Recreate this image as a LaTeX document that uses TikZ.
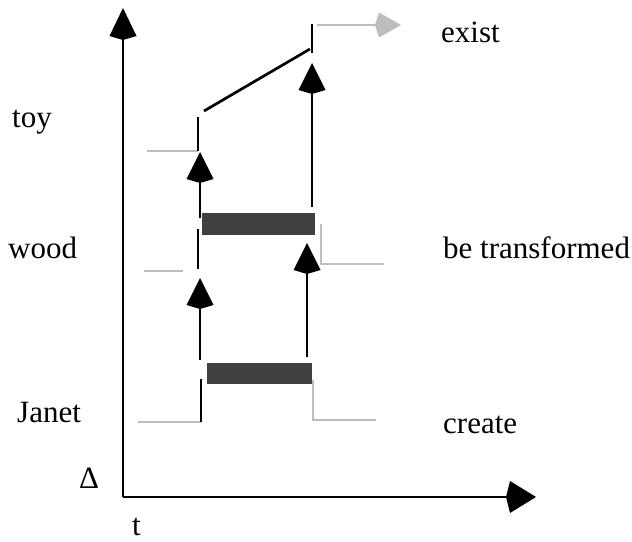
\documentclass[tikz,border=0pt]{standalone}
\usepackage{fontspec}
\setmainfont{Liberation Serif}
\usetikzlibrary{arrows.meta}
\definecolor{ruleGray}{HTML}{BDBDBD}
\definecolor{barGray}{HTML}{404040}
\begin{document}
\begin{tikzpicture}[x=1pt,y=-1pt,
  lbl/.style={anchor=base west,inner sep=0pt,font=\fontsize{31}{36}\selectfont},
  axisline/.style={line width=2.7pt},
  blk/.style={line width=2.7pt},
  gry/.style={line width=2.5pt,ruleGray},
  up/.style={line width=2.7pt,-{Kite[length=31pt,width=27pt,inset=4pt]}},
  bar/.style={fill=barGray,draw=none}]
\useasboundingbox (0,0) rectangle (632,541);

% axes
\coordinate (O) at (123,497);
\coordinate (ytop) at (123,8);
\coordinate (xend) at (536,497);
\draw[axisline,-{Kite[length=32pt,width=27pt,inset=4pt]}] (O) -- (ytop);
\draw[axisline,-{Kite[length=30pt,width=32pt,inset=4pt]}] (O) -- (xend);

% left boundary of the event
\coordinate (jL0) at (138,422);  \coordinate (jL1) at (201,422);
\coordinate (jL2) at (201,379);
\draw[gry] (jL0) -- (jL1);
\draw[blk] (jL1) -- (jL2);

\coordinate (a1s) at (200,360); \coordinate (a1t) at (200,278);
\draw[up] (a1s) -- (a1t);

\coordinate (wL0) at (144,271); \coordinate (wL1) at (183,271);
\draw[gry] (wL0) -- (wL1);
\coordinate (wB0) at (198,269); \coordinate (wB1) at (198,229);
\draw[blk] (wB0) -- (wB1);

\coordinate (a2s) at (200,218); \coordinate (a2t) at (200,152);
\draw[up] (a2s) -- (a2t);

\coordinate (tL0) at (147,151); \coordinate (tL1) at (198,151);
\coordinate (tL2) at (198,117);
\draw[gry] (tL0) -- (tL1);
\draw[blk] (tL1) -- (tL2);

\coordinate (s0) at (204,111); \coordinate (s1) at (310,49);
\draw[blk] (s0) -- (s1);
\coordinate (eB0) at (312,53); \coordinate (eB1) at (312,24);
\draw[blk] (eB0) -- (eB1);
\coordinate (g0) at (317,25); \coordinate (g1) at (401,25);
\draw[gry,-{Kite[length=26pt,width=25pt,inset=4pt]}] (g0) -- (g1);

% right boundary of the event
\coordinate (cR0) at (376,420); \coordinate (cR1) at (313,420);
\coordinate (cR2) at (313,380);
\draw[gry] (cR0) -- (cR1) -- (cR2);
\coordinate (bR0) at (384,264); \coordinate (bR1) at (321,264);
\coordinate (bR2) at (321,224);
\draw[gry] (bR0) -- (bR1) -- (bR2);

% durations
\fill[bar] (207,363) rectangle (312,384);
\fill[bar] (202,213) rectangle (315,235);

\coordinate (a3s) at (307,357); \coordinate (a3t) at (307,243);
\draw[up] (a3s) -- (a3t);
\coordinate (a4s) at (312,207); \coordinate (a4t) at (312,63);
\draw[up] (a4s) -- (a4t);

% labels
\node[lbl] (toy) at (12,127) {toy};
\node[lbl] (wood) at (8,258) {wood};
\node[lbl] (janet) at (17,422) {Janet};
\node[lbl] (exist) at (441,42) {exist};
\node[lbl] (transf) at (443,258) {be transformed};
\node[lbl] (create) at (443,433) {create};
\node[lbl] (delta) at (79,488) {Δ};
\node[lbl] (tlab) at (132,535) {t};
\end{tikzpicture}
\end{document}
